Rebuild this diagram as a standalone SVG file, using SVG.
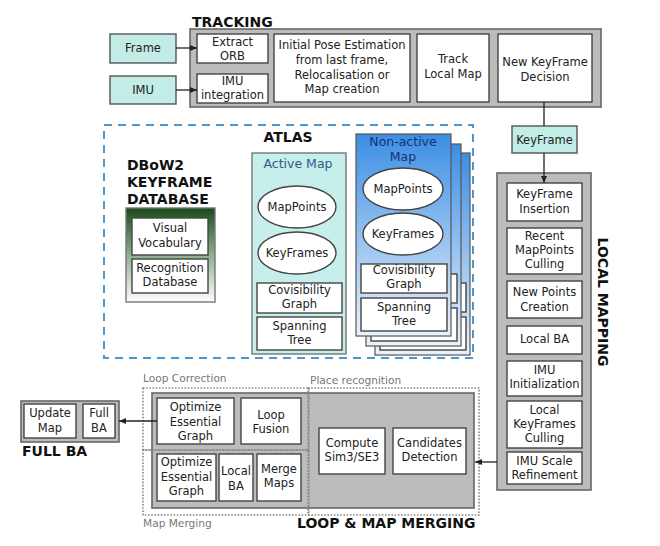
<svg xmlns="http://www.w3.org/2000/svg" width="660" height="546" viewBox="0 0 660 546">
<defs>
<style>
text{font-family:"DejaVu Sans","Liberation Sans",sans-serif;font-size:11.5px;fill:#222;text-anchor:middle}
.t{font-weight:bold;font-size:14px;text-anchor:start;fill:#111}
.n{fill:#fff;stroke:#444;stroke-width:1.4}
.in{fill:#c2ece6;stroke:#555;stroke-width:1.4}
.g{fill:#bcbcbc;stroke:#666;stroke-width:1.6}
.dot{fill:none;stroke:#888;stroke-width:1.6;stroke-dasharray:1.6 1.6}
.lbl{font-size:10.6px;fill:#777;text-anchor:start}
.hd{font-size:12.5px}
.c{stroke:#222;stroke-width:1.3;fill:none}
</style>
<linearGradient id="gdb" x1="0" y1="0" x2="0" y2="1"><stop offset="0" stop-color="#1a4a1a"/><stop offset="0.5" stop-color="#8fae8f"/><stop offset="1" stop-color="#ffffff"/></linearGradient>
<linearGradient id="gna" x1="0" y1="0" x2="0" y2="1"><stop offset="0" stop-color="#3b8ee4"/><stop offset="1" stop-color="#eaf2fb"/></linearGradient>
<marker id="ar" markerWidth="8" markerHeight="8" refX="7" refY="4" orient="auto" markerUnits="userSpaceOnUse"><path d="M0,1 L7,4 L0,7 z" fill="#222"/></marker>
</defs>

<g id="tracking">
<rect class="g" x="190" y="29" width="411" height="78"/>
<text class="t" x="192" y="27">TRACKING</text>
</g>
<g id="frame"><rect class="in" x="110" y="34" width="66" height="29"/><text x="143" y="52">Frame</text></g>
<g id="imu"><rect class="in" x="110" y="76" width="66" height="28"/><text x="143" y="94">IMU</text></g>
<g id="extract-orb"><rect class="n" x="197" y="34" width="71" height="29"/><text x="232.5" y="46">Extract</text><text x="232.5" y="60">ORB</text></g>
<g id="imu-integration"><rect class="n" x="197" y="74" width="71" height="29"/><text x="232.5" y="85">IMU</text><text x="232.5" y="99">integration</text></g>
<g id="initial-pose"><rect class="n" x="274" y="34" width="136" height="68"/><text x="342" y="49">Initial Pose Estimation</text><text x="342" y="64">from last frame,</text><text x="342" y="79">Relocalisation or</text><text x="342" y="93">Map creation</text></g>
<g id="track-local-map"><rect class="n" x="417" y="34" width="72" height="68"/><text x="453" y="63">Track</text><text x="453" y="78">Local Map</text></g>
<g id="new-keyframe"><rect class="n" x="498" y="34" width="94" height="68"/><text x="545" y="66">New KeyFrame</text><text x="545" y="81">Decision</text></g>
<g id="keyframe"><rect class="in" x="512" y="126" width="65" height="27"/><text x="544.5" y="144">KeyFrame</text></g>

<g id="atlas">
<rect x="104" y="125" width="369" height="233" fill="none" stroke="#4b97d1" stroke-width="2" stroke-dasharray="8 6"/>
<text class="t" x="288" y="142" style="text-anchor:middle">ATLAS</text>
</g>
<g id="dbow2">
<text class="t" x="127" y="170">DBoW2</text><text class="t" x="127" y="187">KEYFRAME</text><text class="t" x="127" y="204">DATABASE</text>
<rect x="126" y="208" width="89" height="94" fill="url(#gdb)" stroke="#777" stroke-width="1.4"/>
<rect class="n" x="132" y="218" width="76" height="37"/><text x="170" y="232">Visual</text><text x="170" y="247">Vocabulary</text>
<rect class="n" x="132" y="259" width="76" height="34"/><text x="170" y="272">Recognition</text><text x="170" y="286">Database</text>
</g>
<g id="active-map">
<rect x="252" y="153" width="94" height="201" fill="#c6eeea" stroke="#777" stroke-width="1.4"/>
<text class="hd" x="298" y="168" style="fill:#2b5d8c">Active Map</text>
<ellipse class="n" cx="297" cy="207" rx="39" ry="21"/><text x="297" y="211">MapPoints</text>
<ellipse class="n" cx="297" cy="253" rx="39" ry="21"/><text x="297" y="257">KeyFrames</text>
<rect class="n" x="257" y="283" width="85" height="30"/><text x="299.5" y="294">Covisibility</text><text x="299.5" y="308">Graph</text>
<rect class="n" x="257" y="317" width="85" height="33"/><text x="299.5" y="330">Spanning</text><text x="299.5" y="344">Tree</text>
</g>
<g id="non-active-map">
<g transform="translate(19,19)"><rect x="356" y="134" width="95" height="202" fill="url(#gna)" stroke="#555" stroke-width="1.2"/><rect class="n" x="361" y="264" width="86" height="29"/><rect class="n" x="361" y="298" width="86" height="33"/></g>
<g transform="translate(10,10)"><rect x="356" y="134" width="95" height="202" fill="url(#gna)" stroke="#555" stroke-width="1.2"/><rect class="n" x="361" y="264" width="86" height="29"/><rect class="n" x="361" y="298" width="86" height="33"/></g>
<rect x="356" y="134" width="95" height="202" fill="url(#gna)" stroke="#555" stroke-width="1.2"/>
<text class="hd" x="403" y="146" style="fill:#1c2f6e">Non-active</text><text class="hd" x="403" y="161" style="fill:#1c2f6e">Map</text>
<ellipse class="n" cx="403" cy="189" rx="40" ry="21"/><text x="403" y="193">MapPoints</text>
<ellipse class="n" cx="403" cy="234" rx="40" ry="21"/><text x="403" y="238">KeyFrames</text>
<rect class="n" x="361" y="264" width="86" height="29"/><text x="404" y="274">Covisibility</text><text x="404" y="288">Graph</text>
<rect class="n" x="361" y="298" width="86" height="33"/><text x="404" y="311">Spanning</text><text x="404" y="325">Tree</text>
</g>

<g id="local-mapping">
<rect class="g" x="497" y="173" width="94" height="317"/>
<text class="t" transform="translate(598,302) rotate(90)" style="text-anchor:middle">LOCAL MAPPING</text>
<rect class="n" x="507" y="183" width="75" height="38"/><text x="544.5" y="198">KeyFrame</text><text x="544.5" y="213">Insertion</text>
<rect class="n" x="507" y="228" width="75" height="46"/><text x="544.5" y="240">Recent</text><text x="544.5" y="254">MapPoints</text><text x="544.5" y="268">Culling</text>
<rect class="n" x="507" y="281" width="75" height="37"/><text x="544.5" y="296">New Points</text><text x="544.5" y="311">Creation</text>
<rect class="n" x="507" y="326" width="75" height="28"/><text x="544.5" y="343">Local BA</text>
<rect class="n" x="507" y="361" width="75" height="35"/><text x="544.5" y="374">IMU</text><text x="544.5" y="388">Initialization</text>
<rect class="n" x="507" y="401" width="75" height="47"/><text x="544.5" y="414">Local</text><text x="544.5" y="428">KeyFrames</text><text x="544.5" y="442">Culling</text>
<rect class="n" x="507" y="452" width="75" height="32"/><text x="544.5" y="465">IMU Scale</text><text x="544.5" y="479">Refinement</text>
</g>

<g id="loop-map-merging">
<rect class="g" x="152" y="393" width="322" height="115"/>
<rect class="dot" x="143" y="388" width="166" height="62"/>
<rect class="dot" x="143" y="450" width="166" height="65"/>
<rect class="dot" x="308" y="388" width="171" height="127"/>
<text class="lbl" x="143" y="382">Loop Correction</text>
<text class="lbl" x="310" y="384">Place recognition</text>
<text class="lbl" x="143" y="527">Map Merging</text>
<text class="t" x="297" y="528">LOOP &amp; MAP MERGING</text>
<rect class="n" x="157" y="398" width="77" height="46"/><text x="195.5" y="411">Optimize</text><text x="195.5" y="426">Essential</text><text x="195.5" y="440">Graph</text>
<rect class="n" x="241" y="398" width="60" height="46"/><text x="271" y="419">Loop</text><text x="271" y="433">Fusion</text>
<rect class="n" x="157" y="454" width="59" height="47"/><text x="186.5" y="466">Optimize</text><text x="186.5" y="481">Essential</text><text x="186.5" y="495">Graph</text>
<rect class="n" x="219" y="454" width="34" height="47"/><text x="236" y="475">Local</text><text x="236" y="490">BA</text>
<rect class="n" x="257" y="454" width="44" height="47"/><text x="279" y="473">Merge</text><text x="279" y="487">Maps</text>
<rect class="n" x="319" y="428" width="66" height="46"/><text x="352" y="447">Compute</text><text x="352" y="461">Sim3/SE3</text>
<rect class="n" x="393" y="428" width="73" height="46"/><text x="429.5" y="447">Candidates</text><text x="429.5" y="461">Detection</text>
</g>

<g id="full-ba">
<rect class="g" x="21" y="401" width="98" height="41"/>
<rect class="n" x="24" y="404" width="52" height="34"/><text x="50" y="417">Update</text><text x="50" y="432">Map</text>
<rect class="n" x="83" y="404" width="32" height="34"/><text x="99" y="417">Full</text><text x="99" y="432">BA</text>
<text class="t" x="22" y="456">FULL BA</text>
</g>

<g id="connectors">
<line class="c" x1="176" y1="48" x2="197" y2="48" marker-end="url(#ar)"/>
<line class="c" x1="176" y1="90" x2="197" y2="90" marker-end="url(#ar)"/>
<line class="c" x1="544" y1="102" x2="544" y2="126"/>
<line class="c" x1="544" y1="153" x2="544" y2="183" marker-end="url(#ar)"/>
<line class="c" x1="497" y1="462" x2="475" y2="462" marker-end="url(#ar)"/>
<line class="c" x1="157" y1="421" x2="119" y2="421" marker-end="url(#ar)"/>
</g>
</svg>
